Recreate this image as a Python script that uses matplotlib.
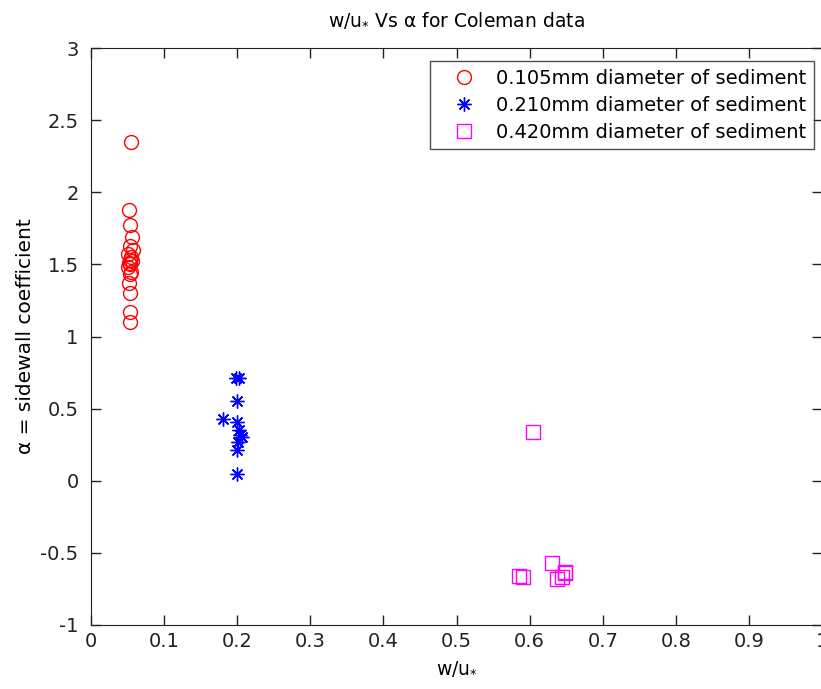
import matplotlib
matplotlib.use("Agg")
import matplotlib.pyplot as plt

# -----------------------------
# DATA
# -----------------------------
x_105 = [0.055, 0.052, 0.054, 0.056, 0.053, 0.057, 0.051, 0.055, 0.053, 0.056,
         0.052, 0.054, 0.050, 0.055, 0.053, 0.052, 0.054, 0.053, 0.054]
y_105 = [2.35, 1.88, 1.77, 1.69, 1.63, 1.60, 1.57, 1.55, 1.53, 1.52,
         1.51, 1.50, 1.48, 1.45, 1.43, 1.37, 1.30, 1.17, 1.10]

x_210 = [0.199, 0.203, 0.200, 0.181, 0.200, 0.202, 0.204, 0.206, 0.201, 0.200, 0.200]
y_210 = [0.71, 0.71, 0.55, 0.43, 0.41, 0.35, 0.32, 0.30, 0.27, 0.21, 0.05]

x_420 = [0.605, 0.585, 0.591, 0.630, 0.648, 0.637, 0.644, 0.648]
y_420 = [0.34, -0.66, -0.67, -0.57, -0.63, -0.68, -0.67, -0.64]

labels = ["0.105mm diameter of sediment",
          "0.210mm diameter of sediment",
          "0.420mm diameter of sediment"]

xticks = [0, 0.1, 0.2, 0.3, 0.4, 0.5, 0.6, 0.7, 0.8, 0.9, 1]
xtick_labels = ["0", "0.1", "0.2", "0.3", "0.4", "0.5", "0.6", "0.7", "0.8", "0.9", "1"]
yticks = [-1, -0.5, 0, 0.5, 1, 1.5, 2, 2.5, 3]
ytick_labels = ["-1", "-0.5", "0", "0.5", "1", "1.5", "2", "2.5", "3"]

# -----------------------------
# FIGURE
# -----------------------------
plt.rcParams['font.family'] = ['DejaVu Sans']
plt.rcParams['mathtext.fontset'] = 'dejavusans'
plt.rcParams['font.size'] = 14

fig = plt.figure(figsize=(8.21, 6.89), dpi=100)
ax = fig.add_axes([91 / 821, 64 / 689, 731 / 821, 577 / 689])

ax.plot(x_105, y_105, linestyle='none', marker='o', markersize=10,
        markerfacecolor='none', markeredgecolor='red', markeredgewidth=1,
        label=labels[0])
ax.plot(x_210, y_210, linestyle='none', marker=(8, 2, 0), markersize=10,
        color='blue', markeredgewidth=1, label=labels[1])
ax.plot(x_420, y_420, linestyle='none', marker='s', markersize=9.5,
        markerfacecolor='none', markeredgecolor='magenta', markeredgewidth=1,
        label=labels[2])

ax.set_xlim(0, 1)
ax.set_ylim(-1, 3)
ax.set_xticks(xticks)
ax.set_xticklabels(xtick_labels)
ax.set_yticks(yticks)
ax.set_yticklabels(ytick_labels)
ax.tick_params(direction='in', top=True, right=True, length=7, width=1,
               colors='#222222', labelsize=14)
ax.tick_params(axis='y', pad=9)
ax.tick_params(axis='x', pad=5)
for s in ax.spines.values():
    s.set_color('#222222')

ax.set_title(r"w/u$_{*}$ Vs α for Coleman data", fontsize=13.5, pad=16)
ax.set_xlabel(r"w/u$_{*}$", fontsize=13.5, labelpad=6)
ax.set_ylabel("α = sidewall coefficient", fontsize=14.5, labelpad=4)

leg = ax.legend(loc='upper right', bbox_to_anchor=(0.989, 0.9775),
                fontsize=14, frameon=True, fancybox=False,
                edgecolor='#222222', borderaxespad=0, handletextpad=0.3,
                labelspacing=0.41, borderpad=0.4, handlelength=2.7)
leg.get_frame().set_linewidth(1)

fig.savefig("out.png", dpi=100)
